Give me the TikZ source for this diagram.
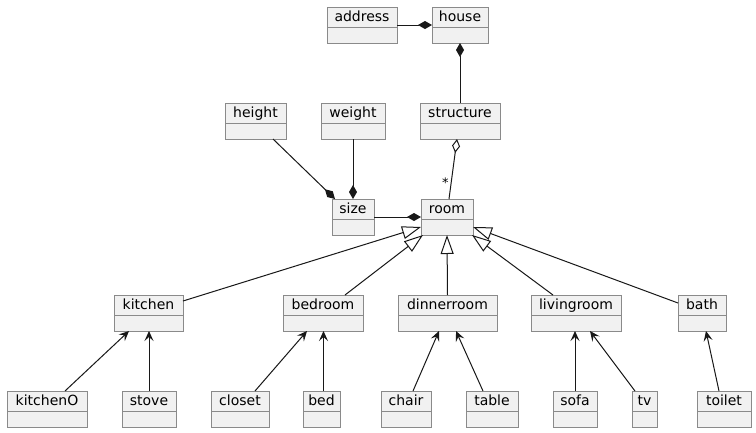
\documentclass[tikz,border=0pt]{standalone}
\usepackage{fontspec}
\setmainfont{DejaVu Sans}
\usetikzlibrary{arrows.meta}
\definecolor{boxfill}{HTML}{F1F1F1}
\definecolor{boxdraw}{HTML}{8A8A8A}
\definecolor{linecol}{HTML}{181818}
\tikzset{
  clsbox/.style={draw=boxdraw, fill=boxfill, line width=1pt, rectangle, minimum height=36pt, inner sep=0pt, outer sep=0pt},
  clsrule/.style={draw=boxdraw, line width=1pt},
  clstext/.style={anchor=base, inner sep=0pt, font=\fontsize{14}{16}\selectfont},
  conn/.style={draw=linecol, line width=1pt},
  comp/.style={conn, -{Diamond[length=14pt,width=8pt]}},
  compstart/.style={conn, {Diamond[length=14pt,width=8pt]}-},
  aggstart/.style={conn, {Diamond[length=14pt,width=8pt,fill=white]}-},
  inherit/.style={conn, -{Triangle[length=19pt,width=13pt,fill=white]}},
  assoc/.style={conn, -{Stealth[length=10pt,width=9pt,inset=4pt]}}
}
\newcommand{\umlclass}[5]{%
  \pgfmathsetmacro{\ucx}{(#2+#4)/2}%
  \pgfmathsetmacro{\uwd}{#4-#2}%
  \node[clsbox, minimum width=\uwd pt] (#1) at (\ucx, #3+18) {};
  \draw[clsrule] ([yshift=-20pt]#1.north west) -- ([yshift=-20pt]#1.north east);
  \node[clstext] (#1-t) at (\ucx, #3+14.5) {#5};
}
\begin{document}
\begin{tikzpicture}[x=1pt, y=-1pt]
\useasboundingbox (0,0) rectangle (756,432);
\fill[white] (0,0) rectangle (756,432);

% connectors drawn first (under boxes) are drawn after boxes so tips show
\umlclass{address}{327}{7}{397}{address}
\umlclass{house}{432}{7}{488}{house}
\umlclass{height}{225}{103}{286}{height}
\umlclass{weight}{321}{103}{385}{weight}
\umlclass{structure}{420}{103}{500}{structure}
\umlclass{size}{332}{199}{374}{size}
\umlclass{room}{421}{199}{473}{room}
\umlclass{kitchen}{114}{295}{183}{kitchen}
\umlclass{bedroom}{283}{295}{363}{bedroom}
\umlclass{dinnerroom}{398}{295}{497}{dinnerroom}
\umlclass{livingroom}{531}{295}{621}{livingroom}
\umlclass{bath}{678}{295}{726}{bath}
\umlclass{kitchenO}{7}{391}{87}{kitchenO}
\umlclass{stove}{122}{391}{176}{stove}
\umlclass{closet}{211}{391}{269}{closet}
\umlclass{bed}{303}{391}{340}{bed}
\umlclass{chair}{381}{391}{431}{chair}
\umlclass{table}{466}{391}{518}{table}
\umlclass{sofa}{553}{391}{597}{sofa}
\umlclass{tv}{632}{391}{657}{tv}
\umlclass{toilet}{697}{391}{751}{toilet}

% compositions / aggregation
\draw[comp] (address.east) -- (house.west);
\draw[compstart] (house.south) -- (structure.north);
\draw[aggstart] ([xshift=-3pt]structure.south) -- ([xshift=2pt]room.north)
  node[pos=0.72, left=2pt, inner sep=0pt, font=\fontsize{13}{15}\selectfont] (mult) {*};
\draw[comp] ([xshift=17.5pt]height.south) -- ([xshift=-18pt]size.north);
\draw[comp] (weight.south) -- (size.north);
\draw[comp] (size.east) -- (room.west);

% generalizations
\draw[inherit] ([yshift=12pt]kitchen.east) -- ([yshift=-10pt]room.west);
\draw[inherit] ([xshift=22pt]bedroom.north) -- ([xshift=-24pt]room.south);
\draw[inherit] (dinnerroom.north) -- (room.south);
\draw[inherit] ([xshift=-23pt]livingroom.north) -- ([xshift=25pt]room.south);
\draw[inherit] ([yshift=10pt]bath.west) -- ([yshift=-10pt]room.east);

% associations
\draw[assoc] ([xshift=18pt]kitchenO.north) -- ([xshift=-19.5pt]kitchen.south);
\draw[assoc] (stove.north) -- (stove.north |- kitchen.south);
\draw[assoc] ([xshift=15pt]closet.north) -- ([xshift=-16pt]bedroom.south);
\draw[assoc] ([xshift=2pt]bed.north) -- ([xshift=0.5pt]bedroom.south);
\draw[assoc] ([xshift=7pt]chair.north) -- ([xshift=-8.5pt]dinnerroom.south);
\draw[assoc] ([xshift=-9pt]table.north) -- ([xshift=8.5pt]dinnerroom.south);
\draw[assoc] (sofa.north) -- (sofa.north |- livingroom.south);
\draw[assoc] ([xshift=-9.5pt]tv.north) -- ([xshift=14pt]livingroom.south);
\draw[assoc] ([xshift=-5pt]toilet.north) -- ([xshift=4pt]bath.south);
\end{tikzpicture}
\end{document}
